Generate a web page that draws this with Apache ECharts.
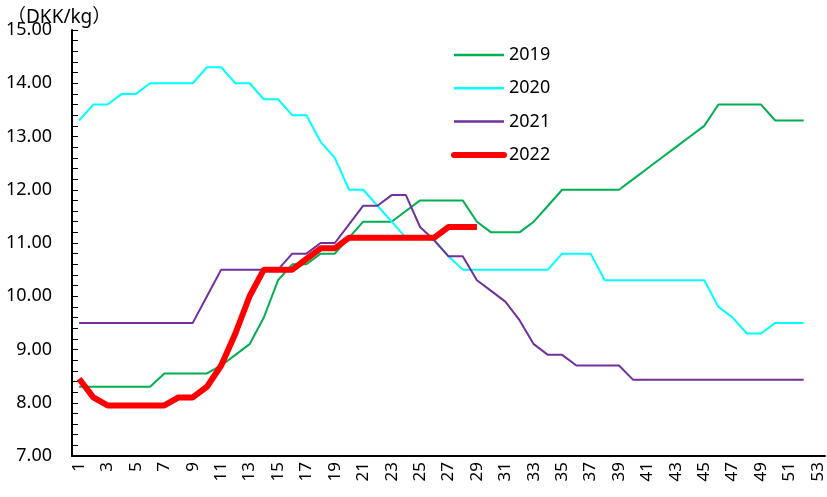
<!DOCTYPE html>
<html lang="en">
<head>
    <meta charset="UTF-8">
    <title>DKK/kg</title>
    <script type="text/javascript" src="https://cdn.jsdelivr.net/npm/echarts@6/dist/echarts.min.js"></script>
    <style>
        html, body { margin: 0; padding: 0; background: #fff; }
    </style>
</head>
<body>
    <div id="main" style="width: 827px; height: 497px;"></div>
    <script type="text/javascript">
        var weeks = ['1','2','3','4','5','6','7','8','9','10','11','12','13','14','15','16','17','18','19','20',
            '21','22','23','24','25','26','27','28','29','30','31','32','33','34','35','36','37','38','39','40',
            '41','42','43','44','45','46','47','48','49','50','51','52','53'];

        var y2019 = [8.3, 8.3, 8.3, 8.3, 8.3, 8.3, 8.55, 8.55, 8.55, 8.55, 8.7, 8.9, 9.1, 9.6, 10.3, 10.6, 10.6, 10.8, 10.8, 11.1,
            11.4, 11.4, 11.4, 11.6, 11.8, 11.8, 11.8, 11.8, 11.4, 11.2, 11.2, 11.2, 11.4, 11.7, 12.0, 12.0, 12.0, 12.0, 12.0, 12.2,
            12.4, 12.6, 12.8, 13.0, 13.2, 13.6, 13.6, 13.6, 13.6, 13.3, 13.3, 13.3];
        var y2020 = [13.3, 13.6, 13.6, 13.8, 13.8, 14.0, 14.0, 14.0, 14.0, 14.3, 14.3, 14.0, 14.0, 13.7, 13.7, 13.4, 13.4, 12.9, 12.6, 12.0,
            12.0, 11.7, 11.4, 11.1, 11.1, 11.05, 10.75, 10.5, 10.5, 10.5, 10.5, 10.5, 10.5, 10.5, 10.8, 10.8, 10.8, 10.3, 10.3, 10.3,
            10.3, 10.3, 10.3, 10.3, 10.3, 9.8, 9.6, 9.3, 9.3, 9.5, 9.5, 9.5];
        var y2021 = [9.5, 9.5, 9.5, 9.5, 9.5, 9.5, 9.5, 9.5, 9.5, 10.0, 10.5, 10.5, 10.5, 10.5, 10.5, 10.8, 10.8, 11.0, 11.0, 11.35,
            11.7, 11.7, 11.9, 11.9, 11.3, 11.05, 10.75, 10.75, 10.3, 10.1, 9.9, 9.55, 9.1, 8.9, 8.9, 8.7, 8.7, 8.7, 8.7, 8.43,
            8.43, 8.43, 8.43, 8.43, 8.43, 8.43, 8.43, 8.43, 8.43, 8.43, 8.43, 8.43];
        var y2022 = [8.45, 8.1, 7.95, 7.95, 7.95, 7.95, 7.95, 8.1, 8.1, 8.3, 8.7, 9.3, 10.0, 10.5, 10.5, 10.5, 10.7, 10.9, 10.9, 11.1,
            11.1, 11.1, 11.1, 11.1, 11.1, 11.1, 11.3, 11.3, 11.3];

        var myChart = echarts.init(document.getElementById('main'));
        var font = '"Noto Sans", "Noto Sans CJK SC", sans-serif';

        function line(name, data, color, width) {
            return {
                name: name,
                type: 'line',
                data: data,
                symbol: 'none',
                lineStyle: { color: color, width: width },
                itemStyle: { color: color },
                emphasis: { disabled: true }
            };
        }

        var option = {
            animation: false,
            textStyle: { fontFamily: font, color: '#000' },
            title: {
                text: '（DKK/kg）',
                left: 2,
                top: 3,
                textStyle: { fontFamily: font, fontSize: 19, fontWeight: 'normal', color: '#000' }
            },
            legend: {
                orient: 'vertical',
                left: 446,
                top: 41,
                itemWidth: 50,
                itemHeight: 14,
                itemGap: 15.3,
                // hide the circle marker, keep only the line
                itemStyle: { color: 'rgba(0,0,0,0)', borderWidth: 0 },
                textStyle: { fontFamily: font, fontSize: 18, lineHeight: 18, color: '#000' },
                data: [
                    { name: '2019', lineStyle: { width: 2.5 } },
                    { name: '2020', lineStyle: { width: 2.5 } },
                    { name: '2021', lineStyle: { width: 2.5 } },
                    { name: '2022', lineStyle: { width: 6, cap: 'round' } }
                ]
            },
            grid: { left: 72, right: 2, top: 30, bottom: 41 },
            xAxis: {
                type: 'category',
                data: weeks,
                boundaryGap: true,
                axisLine: { lineStyle: { color: '#000', width: 2 } },
                axisTick: { inside: true, interval: 0, length: 5, lineStyle: { color: '#000' } },
                axisLabel: { interval: 1, rotate: 90, fontSize: 17, color: '#000', margin: 6, fontFamily: font },
                splitLine: { show: false }
            },
            yAxis: {
                type: 'value',
                min: 7,
                max: 15,
                interval: 1,
                axisLine: { show: true, lineStyle: { color: '#000', width: 2 } },
                axisTick: { show: true, inside: true, length: 6, lineStyle: { color: '#000' } },
                minorTick: { show: true, splitNumber: 5, length: 6, lineStyle: { color: '#000' } },
                axisLabel: {
                    fontSize: 18, color: '#000', margin: 20, fontFamily: font,
                    formatter: function (v) { return v.toFixed(2); }
                },
                splitLine: { show: false }
            },
            series: [
                line('2019', y2019, '#00B050', 2),
                line('2020', y2020, '#00FFFF', 2),
                line('2021', y2021, '#7030A0', 2),
                line('2022', y2022, '#FF0000', 6)
            ]
        };

        myChart.setOption(option);
    </script>
</body>
</html>
